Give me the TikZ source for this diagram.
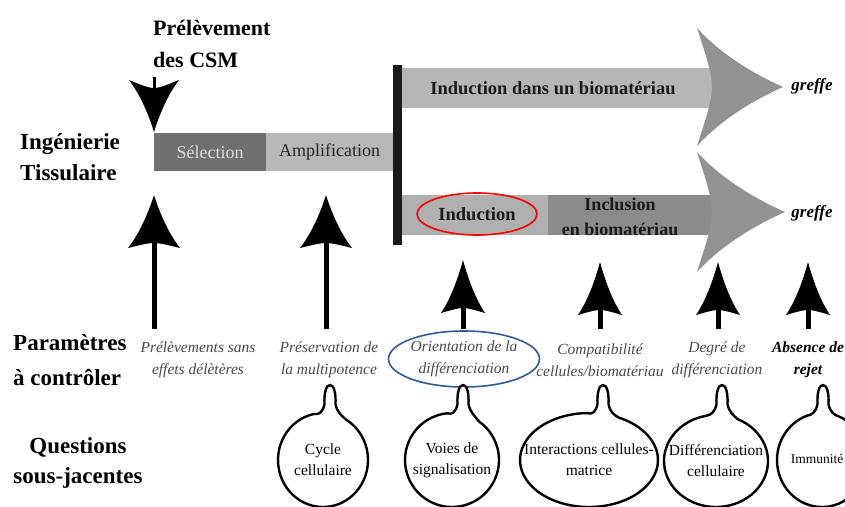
\documentclass[tikz,border=0pt]{standalone}
\usepackage{fontspec}
\setmainfont{Liberation Serif}
\usetikzlibrary{calc,shapes.geometric}
\definecolor{bandA}{HTML}{B6B6B6}
\definecolor{bandB}{HTML}{B0B0B0}
\definecolor{bandC}{HTML}{8B8B8B}
\definecolor{selc}{HTML}{707070}
\definecolor{ampc}{HTML}{B8B8B8}
\definecolor{headc}{HTML}{929292}
\definecolor{paramc}{HTML}{4A4A4A}
\definecolor{blueell}{HTML}{2F5A9A}
\newcommand\mybubble[7]{%
  \pgfmathsetmacro\bubA{360-acos((#6-16-#2)/#4)}%
  \pgfmathsetmacro\bubB{360-acos((#6+16-#2)/#4)}%
  \pgfmathsetmacro\bubC{\bubA+360}%
  \draw[bubble] (#6+5.5,404) .. controls (#6+7,412) and (#6+11,415) .. ($(#2,#3)+(\bubB:#4 and #5)$)
     arc[start angle=\bubB, end angle=\bubC, x radius=#4, y radius=#5]
     .. controls (#6-11,415) and (#6-7,412) .. (#6-5.5,404)
     .. controls (#6-6,393) and (#6-4,385) .. (#6,385)
     .. controls (#6+4,385) and (#6+6,393) .. cycle;
  \node[qtext] (#1) at (#2,#3) {#7};
}
\begin{document}
\begin{tikzpicture}[x=1pt,y=-1pt,
  hl/.store in=\hdl, hw/.store in=\hdw, hn/.store in=\hdn, hc/.store in=\hdc,
  hd/.pic={
    \fill[\hdc] (0,0) .. controls (-0.4*\hdl,0.26*\hdw) and (-0.75*\hdl,0.6*\hdw) .. (-\hdl,\hdw)
      .. controls (-\hdl+0.5*\hdn,0.6*\hdw) and (-\hdl+\hdn,0.25*\hdw) .. (-\hdl+\hdn,0)
      .. controls (-\hdl+\hdn,-0.25*\hdw) and (-\hdl+0.5*\hdn,-0.6*\hdw) .. (-\hdl,-\hdw)
      .. controls (-0.75*\hdl,-0.6*\hdw) and (-0.4*\hdl,-0.26*\hdw) .. cycle;
  },
  ttl/.style={font=\fontsize{23}{31}\selectfont\bfseries, align=left, inner sep=0pt},
  param/.style={font=\fontsize{15.5}{22}\selectfont\itshape, text=paramc, align=center, inner sep=0pt},
  qtext/.style={font=\fontsize{15.5}{21}\selectfont, align=center, inner sep=0pt},
  bubble/.style={draw=black, fill=white, line width=2.4pt, line join=round},
  shaft/.style={draw=black, line width=5pt},
  bandtxt/.style={font=\fontsize{18.5}{25}\selectfont\bfseries, text=black!90, inner sep=0pt, align=center},
  gref/.style={font=\fontsize{17}{20}\selectfont\bfseries\itshape, inner sep=0pt},
  boxn/.style={inner sep=0pt, anchor=north west, font=\fontsize{18}{22}\selectfont}
]
\useasboundingbox (0,0) rectangle (845,506);
\clip (0,0) rectangle (845,506);
\fill[white] (0,0) rectangle (845,506);

% left labels (base anchor = baseline of last line)
\node[ttl, anchor=base west, font=\fontsize{22}{32}\selectfont\bfseries] (prel) at (153,67) {Prélèvement\\des CSM};
\node[ttl, anchor=base west] (ing) at (20,180) {Ingénierie\\Tissulaire};
\node[ttl, anchor=base west, font=\fontsize{23}{35}\selectfont\bfseries] (par) at (13,385) {Paramètres\\à contrôler};
\node[ttl, anchor=base, align=center, font=\fontsize{23}{30}\selectfont\bfseries] (ques) at (78,483) {Questions\\sous-jacentes};

% down arrow into selection
\coordinate (dtip) at (154,132);
\coordinate (dstub) at (154,77);
\draw[line width=3pt] (dstub) -- ($(dtip)+(0,-40)$);
\pic[rotate=-90, hl=52, hw=25, hn=8, hc=black] at (dtip) {hd};

% process boxes
\node[boxn, fill=selc, text=white!86!black, minimum width=112pt, minimum height=38pt] (sel) at (154,133) {Sélection};
\node[boxn, fill=ampc, text=black!85, minimum width=127pt, minimum height=38pt] (amp) at (266,133) {Amplification};
\node[inner sep=0pt, anchor=north west, fill=black!90, minimum width=9pt, minimum height=180pt] (bar) at (393,65) {};

% bands
\node[inner sep=0pt, anchor=north west, fill=bandA, minimum width=310pt, minimum height=40pt] (band1) at (402,68) {};
\node[inner sep=0pt, anchor=north west, fill=bandB, minimum width=146pt, minimum height=40pt] (indb) at (402,195) {};
\node[inner sep=0pt, anchor=north west, fill=bandC, minimum width=164pt, minimum height=40pt] (incb) at (548,195) {};

% big heads
\coordinate (g1tip) at (783,87);
\coordinate (g2tip) at (785,212);
\pic[hl=86, hw=59, hn=15, hc=headc] at (g1tip) {hd};
\pic[hl=88, hw=60, hn=15, hc=headc] at (g2tip) {hd};

\node[bandtxt] (t1) at (553,88.5) {Induction dans un biomatériau};
\node[bandtxt, draw=red, line width=1.6pt, ellipse, minimum width=120pt, minimum height=42pt] (indu) at (477,214) {Induction};
\begin{scope}
  \clip (548,195) rectangle (712,235);
  \node[bandtxt, font=\fontsize{18}{25}\selectfont\bfseries] (incl) at (620,217) {Inclusion\\en biomatériau};
\end{scope}
\node[gref] (gr1) at (812,86) {greffe};
\node[gref] (gr2) at (812,213) {greffe};

% parameters
\node[param] (p1) at (198,360) {Prélèvements sans\\effets délètères};
\node[param] (p2) at (329,360) {Préservation de\\la multipotence};
\node[param, draw=blueell, line width=1.6pt, ellipse, minimum width=146pt, minimum height=56pt] (p3) at (464,359) {Orientation de la\\différenciation};
\node[param] (p4) at (600,360) {Compatibilité\\cellules/biomatériau};
\node[param] (p5) at (717,360) {Degré de\\différenciation};
\node[param, text=black, font=\fontsize{15.5}{22}\selectfont\bfseries\itshape] (p6) at (808,360) {Absence de\\rejet};

% up arrows
\foreach \i/\x/\ty/\w in {1/154/195/26, 2/326/195/26, 3/463/260/22, 4/600/262/22, 5/718/262/22, 6/808/262/22}{
  \coordinate (s\i) at (\x,329);
  \coordinate (a\i) at (\x,\ty);
  \draw[shaft] (s\i) -- ($(a\i)+(0,45)$);
  \pic[rotate=90, hl=53, hw=\w, hn=5, hc=black] at (a\i) {hd};
}

% bubbles
\mybubble{q1}{323}{460}{45}{47}{330}{Cycle\\cellulaire}
\mybubble{q2}{452}{460}{47}{47}{463}{Voies de\\signalisation}
\mybubble{q3}{589}{460}{69}{47}{603}{Interactions cellules-\\matrice}
\mybubble{q4}{716}{461}{52}{46}{722}{Différenciation\\cellulaire}
\mybubble{q5}{822}{460}{45}{47}{823}{}
\node[qtext, font=\fontsize{13.5}{18}\selectfont] (imm) at (817,459) {Immunité};
\end{tikzpicture}
\end{document}
